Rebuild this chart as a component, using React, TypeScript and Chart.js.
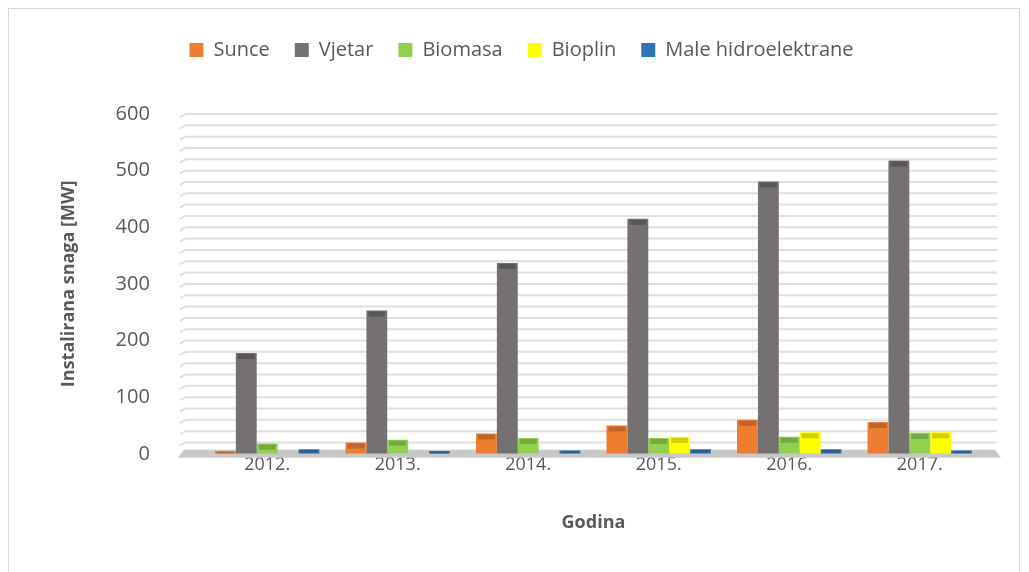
import React, { useEffect, useRef } from "react";
import { Chart, registerables } from "chart.js";

Chart.register(...registerables);

const categories = ["2012.", "2013.", "2014.", "2015.", "2016.", "2017."];
const sunce = [5, 20, 36, 50, 60, 56];
const vjetar = [178, 253, 337, 415, 481, 518];
const biomasa = [18, 25, 28, 28, 30, 37];
const bioplin = [0, 0, 0, 30, 38, 38];
const maleHidro = [8, 5, 6, 8, 8, 6];

const seriesNames = ["Sunce", "Vjetar", "Biomasa", "Bioplin", "Male hidroelektrane"];
const seriesColors = ["#ed7d31", "#767171", "#92d050", "#ffff00", "#2e75b6"];
const topColors = ["#c0652a", "#5a5656", "#76a840", "#d0d000", "#245d90"];
const yAxisTitle = "Instalirana snaga [MW]";
const xAxisTitle = "Godina";

const legendMargin = {
  id: "legendMargin",
  beforeInit(chart: any) {
    const orig = chart.legend.fit;
    chart.legend.fit = function () {
      orig.bind(chart.legend)();
      this.height += 44;
    };
  },
};

// Back wall gridlines and floor, extended past the category area (3D look)
const wallAndFloor = {
  id: "wallAndFloor",
  beforeDatasetsDraw(chart: any) {
    const ctx = chart.ctx;
    const { left, right, bottom } = chart.chartArea;
    const ys = chart.scales.y;
    ctx.save();
    ctx.strokeStyle = "#e0e0e0";
    ctx.lineWidth = 2;
    ys.ticks.forEach((t: any) => {
      if (t.value === 0) return;
      const y = ys.getPixelForValue(t.value);
      ctx.beginPath();
      ctx.moveTo(left - 22, y + 3);
      ctx.lineTo(left - 16, y);
      ctx.lineTo(right + 12, y);
      ctx.stroke();
    });
    ctx.fillStyle = "#c8c8c8";
    ctx.beginPath();
    ctx.moveTo(left - 18, bottom - 4);
    ctx.lineTo(right + 10, bottom - 4);
    ctx.lineTo(right + 16, bottom + 4);
    ctx.lineTo(left - 24, bottom + 4);
    ctx.closePath();
    ctx.fill();
    ctx.restore();
  },
};

const topFaces = {
  id: "topFaces",
  afterDatasetsDraw(chart: any) {
    const ctx = chart.ctx;
    chart.data.datasets.forEach((ds: any, i: number) => {
      const meta = chart.getDatasetMeta(i);
      meta.data.forEach((bar: any, j: number) => {
        if (!ds.data[j]) return;
        const h = bar.base - bar.y;
        const w = bar.width;
        const fh = Math.min(5, h * 0.5);
        ctx.save();
        ctx.fillStyle = topColors[i];
        ctx.fillRect(bar.x - w / 2 + 2, bar.y + 1, w - 4, fh);
        ctx.restore();
      });
    });
  },
};

export default function App() {
  const ref = useRef<HTMLCanvasElement | null>(null);
  useEffect(() => {
    if (!ref.current) return;
    const values = [sunce, vjetar, biomasa, bioplin, maleHidro];
    const chart = new Chart(ref.current, {
      type: "bar",
      data: {
        labels: categories,
        datasets: seriesNames.map((name, i) => ({
          label: name,
          data: values[i],
          backgroundColor: seriesColors[i],
          borderWidth: 0,
          categoryPercentage: 0.8,
          barPercentage: 1.0,
        })),
      },
      options: {
        animation: false,
        responsive: false,
        maintainAspectRatio: false,
        layout: { padding: { left: 49, right: 34, top: 6, bottom: 39 } },
        plugins: {
          tooltip: { enabled: false },
          legend: {
            position: "top",
            labels: {
              boxWidth: 14,
              boxHeight: 14,
              padding: 25,
              color: "#595959",
              font: { family: "Open Sans", size: 20 },
            },
          },
        },
        scales: {
          x: {
            grid: { display: false },
            border: { display: false },
            ticks: { color: "#595959", font: { family: "Open Sans", size: 18 }, padding: -8 },
            title: {
              display: true,
              text: xAxisTitle,
              color: "#595959",
              font: { family: "Open Sans", size: 18, weight: "bold" },
              padding: { top: 45 },
            },
          },
          y: {
            min: 0,
            max: 600,
            ticks: {
              stepSize: 20,
              autoSkip: false,
              color: "#595959",
              font: { family: "Open Sans", size: 20 },
              padding: 44,
              callback: (v: any) => (Number(v) % 100 === 0 ? String(v) : ""),
            },
            grid: { display: false },
            border: { display: false },
            title: {
              display: true,
              text: yAxisTitle,
              color: "#595959",
              font: { family: "Open Sans", size: 18, weight: "bold" },
              padding: { top: 0, bottom: -8 },
            },
          },
        },
      },
      plugins: [legendMargin, wallAndFloor, topFaces],
    });
    return () => chart.destroy();
  }, []);
  return (
    <div style={{ width: 1012, height: 570, border: "1px solid #d9d9d9", boxSizing: "border-box" }}>
      <canvas ref={ref} width={1010} height={568} style={{ display: "block" }} />
    </div>
  );
}
